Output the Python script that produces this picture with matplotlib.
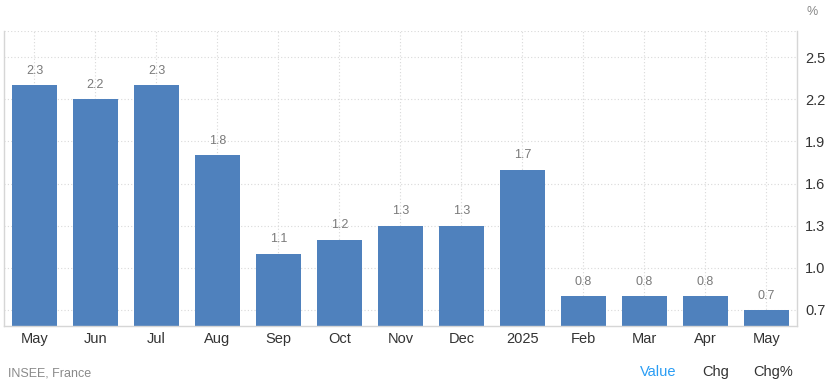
import matplotlib.pyplot as plt

plt.rcParams['font.family'] = ['Liberation Sans', 'DejaVu Sans']

# Data
months = ["May", "Jun", "Jul", "Aug", "Sep", "Oct", "Nov", "Dec", "2025",
          "Feb", "Mar", "Apr", "May"]
values = [2.3, 2.2, 2.3, 1.8, 1.1, 1.2, 1.3, 1.3, 1.7, 0.8, 0.8, 0.8, 0.7]
yticks = [0.7, 1.0, 1.3, 1.6, 1.9, 2.2, 2.5]

bar_color = "#4f81bd"
grid_color = "#d9d9d9"

fig = plt.figure(figsize=(8.29, 3.87), dpi=100)
ax = fig.add_axes([4 / 829, 1 - 326 / 387, 793 / 829, 295 / 387])

x = range(len(months))
bars = ax.bar(x, values, width=0.73, color=bar_color, zorder=2)

ax.set_xlim(-0.5, len(months) - 0.5)
ax.set_ylim(0.586, 2.686)

# Annotate values on bars
for bar, v in zip(bars, values):
    ax.annotate(f"{v:.1f}",
                xy=(bar.get_x() + bar.get_width() / 2, v),
                xytext=(0, 6), textcoords="offset points",
                ha="center", va="bottom", fontsize=9, color="#7a7a7a")

ax.set_xticks(list(x))
ax.set_xticklabels(months, fontsize=10.5, color="#333333")
ax.set_yticks(yticks)
ax.set_yticklabels([f"{t:.1f}" for t in yticks], fontsize=10.5, color="#333333")
ax.yaxis.tick_right()
ax.tick_params(axis="both", length=0)
ax.tick_params(axis="y", pad=6)
ax.tick_params(axis="x", pad=4)

ax.grid(True, color=grid_color, linestyle=(0, (1, 2)), linewidth=0.8, zorder=0)

for side in ["left", "right", "bottom"]:
    ax.spines[side].set_color("#d6d6d6")
    ax.spines[side].set_linewidth(1)
ax.spines["top"].set_visible(False)
ax.axhline(2.686, color=grid_color, linestyle=(0, (1, 2)), linewidth=0.8)

fig.text(812 / 829, 1 - 12 / 387, "%", fontsize=9, color="#888888",
         ha="center", va="center")
fig.text(8 / 829, 1 - 373 / 387, "INSEE, France", fontsize=9, color="#8a8a8a",
         ha="left", va="center")
fig.text(658 / 829, 1 - 372 / 387, "Value", fontsize=10.5, color="#2a9df4",
         ha="center", va="center")
fig.text(716 / 829, 1 - 372 / 387, "Chg", fontsize=10.5, color="#333333",
         ha="center", va="center")
fig.text(773 / 829, 1 - 372 / 387, "Chg%", fontsize=10.5, color="#333333",
         ha="center", va="center")

fig.savefig("out.png", dpi=100)
